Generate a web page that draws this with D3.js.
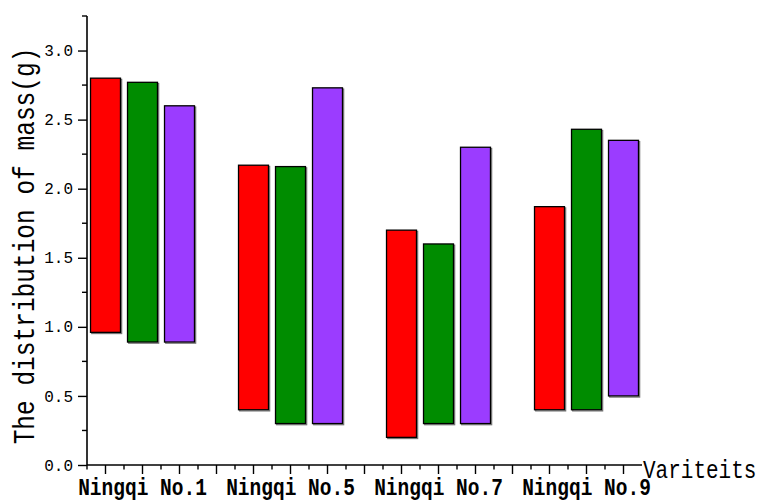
<!DOCTYPE html>
<html>
<head>
<meta charset="utf-8">
<script src="https://cdn.jsdelivr.net/npm/d3@7"></script>
<style>
  body { margin: 0; background: #fff; }
  svg { display: block; }
  text { font-family: "Liberation Mono", "DejaVu Sans Mono", monospace; fill: #000; }
</style>
</head>
<body>
<svg id="chart" width="758" height="503"></svg>
<script>
// Varieties and the three measured series (mass range: low / high, grams)
const categories = ["Ningqi No.1", "Ningqi No.5", "Ningqi No.7", "Ningqi No.9"];
const seriesNames = ["s1", "s2", "s3"];
const seriesColors = ["#ff0000", "#008c00", "#9b3cff"];
const lowValues = [
  [0.96, 0.89, 0.89],
  [0.40, 0.30, 0.30],
  [0.20, 0.30, 0.30],
  [0.40, 0.40, 0.50]
];
const highValues = [
  [2.80, 2.77, 2.60],
  [2.17, 2.16, 2.73],
  [1.70, 1.60, 2.30],
  [1.87, 2.43, 2.35]
];
const yTicks = [0, 0.5, 1.0, 1.5, 2.0, 2.5, 3.0];
const yLabel = "The distribution of mass(g)";
const xLabel = "Variteits";

const svg = d3.select("#chart");
const plotLeft = 87, plotTop = 16, plotBottom = 465;
const slot = 37;
const axisEnd = plotLeft + slot * 15;

const y = d3.scaleLinear().domain([0, 3.25]).range([plotBottom, plotTop]);
// each group occupies four slots: three bars plus a spacer
const x0 = d3.scaleBand().domain(categories).range([plotLeft, plotLeft + slot * 16]);
const x1 = d3.scaleBand().domain([...seriesNames, "gap"]).range([0, x0.bandwidth()]);
const barW = x1.bandwidth() * 0.81;

const data = [];
categories.forEach((c, i) => seriesNames.forEach((s, j) => {
  data.push({ c, s, j, lo: lowValues[i][j], hi: highValues[i][j] });
}));

const barX = d => x0(d.c) + x1(d.s) + (x1.bandwidth() - barW) / 2;

// soft shadow behind each bar
svg.append("g").selectAll("rect").data(data).join("rect")
  .attr("x", d => barX(d) + 1.2)
  .attr("y", d => y(d.hi) + 1.2)
  .attr("width", barW)
  .attr("height", d => y(d.lo) - y(d.hi))
  .attr("fill", "none")
  .attr("stroke", "#777")
  .attr("stroke-width", 1.2);

svg.append("g").selectAll("rect").data(data).join("rect")
  .attr("x", barX)
  .attr("y", d => y(d.hi))
  .attr("width", barW)
  .attr("height", d => y(d.lo) - y(d.hi))
  .attr("fill", d => seriesColors[d.j])
  .attr("stroke", "#000")
  .attr("stroke-width", 1.3);

// y axis
const yMinor = d3.range(0, 3.26, 0.25).filter(v => !yTicks.some(t => Math.abs(t - v) < 1e-6));
const yAxis = svg.append("g").attr("transform", `translate(${plotLeft},0)`);
yAxis.call(d3.axisLeft(y).tickValues(yTicks).tickFormat(d3.format(".1f")).tickSize(9).tickPadding(5))
  .call(g => g.select(".domain").attr("d", `M0,${plotTop}V${plotBottom}`).attr("stroke-width", 1.6));
yAxis.selectAll(".tick line").attr("stroke-width", 1.4);
yAxis.selectAll(".tick text").attr("font-size", 16).attr("fill", "#444").style("font-family", "Liberation Mono");
yAxis.selectAll(".minor").data(yMinor).join("line")
  .attr("x1", -5).attr("x2", 0)
  .attr("y1", d => y(d)).attr("y2", d => y(d))
  .attr("stroke", "#000").attr("stroke-width", 1.4);

// x axis: long ticks at slot centres, short ticks at slot edges
const centres = d3.range(15).map(k => plotLeft + slot * (k + 0.5));
const edges = d3.range(15).map(k => plotLeft + slot * k);
const xAxis = svg.append("g").attr("transform", `translate(0,${plotBottom})`);
xAxis.append("line").attr("x1", plotLeft).attr("x2", axisEnd).attr("stroke", "#000").attr("stroke-width", 1.6);
xAxis.selectAll(".maj").data(centres).join("line")
  .attr("x1", d => d).attr("x2", d => d).attr("y1", 0).attr("y2", 9)
  .attr("stroke", "#000").attr("stroke-width", 1.4);
xAxis.selectAll(".min").data(edges).join("line")
  .attr("x1", d => d).attr("x2", d => d).attr("y1", 0).attr("y2", 4.5)
  .attr("stroke", "#000").attr("stroke-width", 1.4);

// group labels under the middle bar (glyphs stretched a little vertically)
svg.append("g").selectAll("text").data(categories).join("text")
  .attr("transform", c => `translate(${x0(c) + x1("s2") + x1.bandwidth() / 2},495) scale(1,1.22)`)
  .attr("text-anchor", "middle")
  .attr("font-size", 19.5)
  .attr("font-weight", "bold")
  .text(c => c);

svg.append("text")
  .attr("transform", `translate(${axisEnd + 1},478) scale(1,1.25)`)
  .attr("font-size", 21)
  .text(xLabel);

svg.append("text")
  .attr("transform", `translate(34,246) rotate(-90) scale(1,1.22)`)
  .attr("text-anchor", "middle")
  .attr("font-size", 24.5)
  .text(yLabel);
</script>
</body>
</html>
